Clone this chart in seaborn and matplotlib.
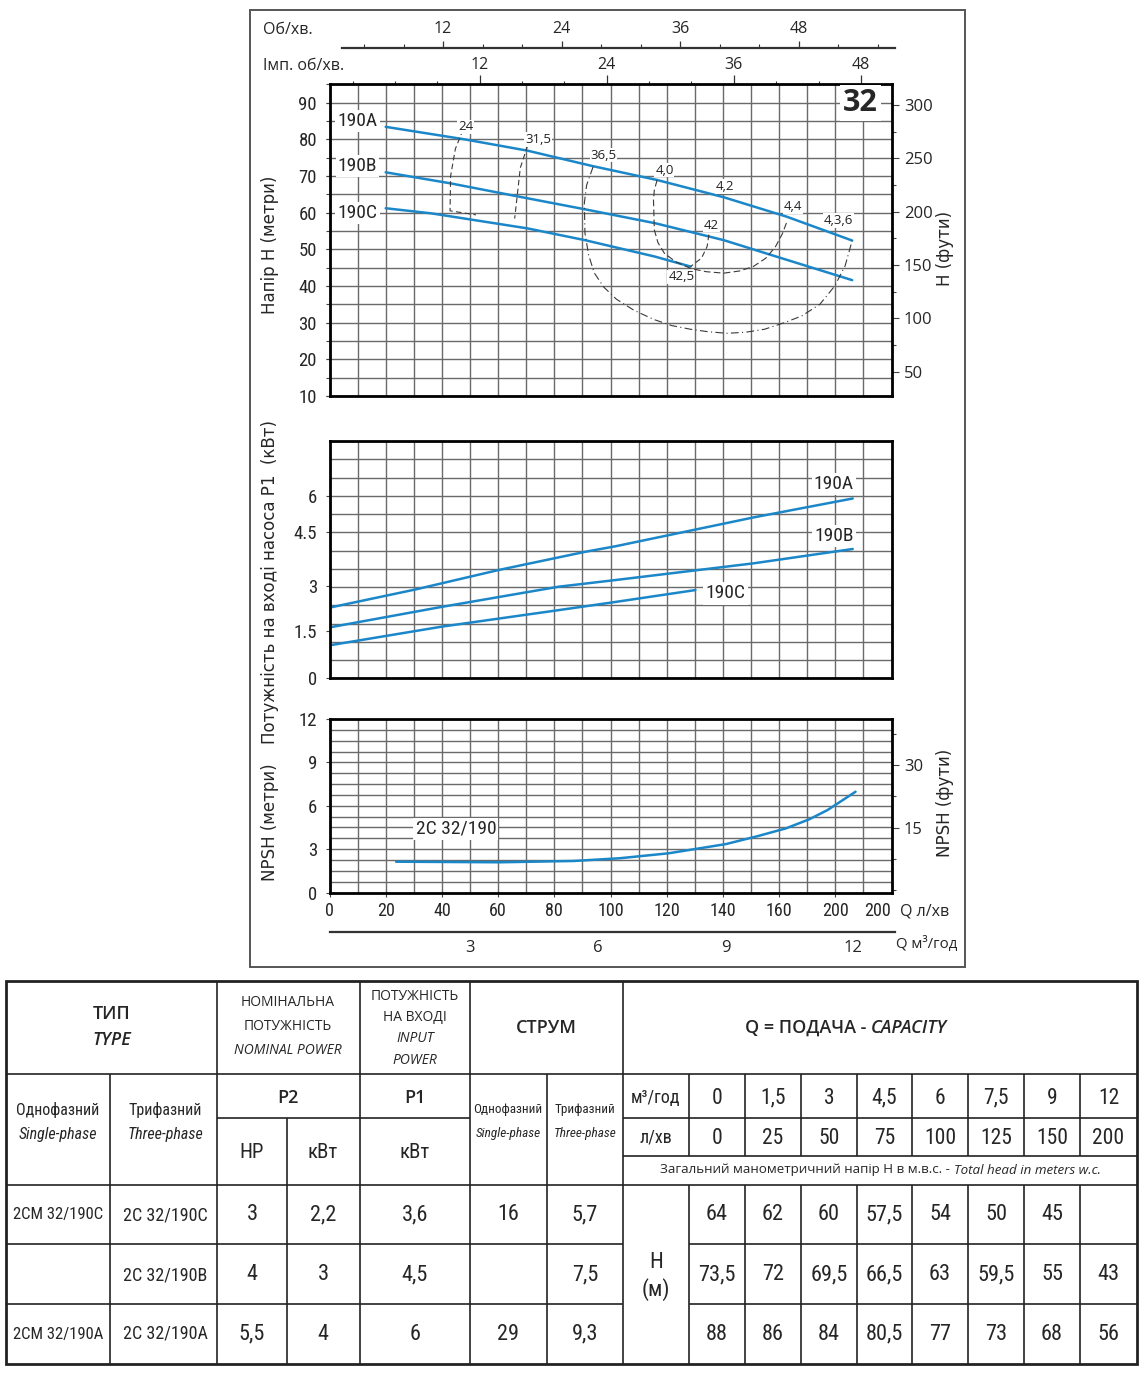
import numpy as np
import pandas as pd
import matplotlib
matplotlib.use("Agg")
import matplotlib.pyplot as plt
import seaborn as sns
from matplotlib import font_manager
from matplotlib.ticker import MultipleLocator, FixedLocator
from matplotlib.patches import Rectangle

# ---------------- data ----------------
# head curves, x in l/min (plot grid), y in metres
HA_Q = [20, 48, 70.5, 93.6, 116.6, 140.3, 162.7, 186]
HA_H = [83.4, 80.0, 76.9, 72.7, 68.9, 64.2, 58.9, 52.4]
HB_Q = [20, 43, 66.5, 91, 116, 140.3, 157, 186]
HB_H = [71.0, 68.0, 64.5, 60.9, 57.1, 52.5, 48.5, 41.6]
HC_Q = [20, 36.3, 70.5, 90.9, 115.9, 128.5]
HC_H = [61.2, 59.8, 55.7, 52.5, 48.0, 45.3]

# iso-efficiency lines (dashed)
E24_Q = [47.5, 44.8, 43.1, 42.9, 52.1]
E24_H = [82.6, 77.4, 70.0, 60.5, 59.4]
E315_Q = [70.5, 67.9, 65.9]
E315_H = [78.3, 72.2, 58.4]
E365_Q = [93.8, 91.5, 90.7, 90.9, 92.2, 94.2, 97.6, 102.1, 108.3, 115.3, 121.8, 128.5,
          135.0, 141.6, 148.2, 154.8, 161.5, 168.0, 174.5, 179.8, 183.5, 186.0]
E365_H = [72.5, 67.5, 62.7, 54.5, 48.5, 43.6, 39.7, 36.4, 33.4, 30.9, 29.2, 28.2,
          27.5, 27.1, 27.4, 28.2, 29.9, 31.8, 35.0, 40.0, 45.5, 52.4]
E40_Q = [116.6, 115.6, 115.3, 115.6, 116.9, 119.2, 123.2, 128.5, 134.0, 140.3, 146.0,
         150.8, 155.3, 158.7, 161.2, 163.0]
E40_H = [68.9, 66.2, 63.5, 55.3, 51.8, 48.9, 46.6, 44.8, 43.9, 43.5, 44.1, 45.3,
         47.6, 50.7, 54.3, 58.0]
E42_Q = [135.0, 134.4, 132.4, 128.5]
E42_H = [54.0, 50.8, 47.6, 45.3]
EFF_LABELS = ["24", "31,5", "36,5", "4,0", "4,2", "4,4", "4,3,6", "42", "42,5"]
EFF_LBL_Q = [48.5, 74.2, 97.5, 119.2, 140.9, 165.0, 181.0, 136.0, 125.2]
EFF_LBL_H = [83.4, 80.0, 75.7, 71.6, 67.1, 61.6, 57.8, 56.6, 42.5]

MODELS = ["190A", "190B", "190C"]
HEAD_LBL_Q = [10, 10, 10]
HEAD_LBL_H = [85.0, 72.7, 59.9]

# input power P1, kW (grid: 0.6 per line)
PA_Q = [0.4, 30.6, 60.2, 91.1, 101.8, 151, 186.2]
PA_P = [2.33, 2.92, 3.56, 4.16, 4.34, 5.29, 5.91]
PB_Q = [0.4, 40.1, 81.5, 101.8, 151, 186.2]
PB_P = [1.68, 2.35, 3.01, 3.23, 3.78, 4.25]
PC_Q = [0.4, 40.1, 81.5, 101.8, 130.2]
PC_P = [1.09, 1.70, 2.24, 2.51, 2.90]
POW_LBL_Q = [179.5, 179.5, 140.9]
POW_LBL_P = [6.38, 4.68, 2.79]
POW_TICK_POS = [0, 1.55, 3.05, 4.8, 6.0]
POW_TICK_LBL = ["0", "1.5", "3", "4.5", "6"]

# NPSH
NPSH_Q = [23.7, 60.6, 86.9, 103.3, 120.6, 141.1, 152.6, 162.5, 170.7, 177.3, 187.2]
NPSH_M = [2.13, 2.09, 2.18, 2.37, 2.71, 3.35, 3.91, 4.44, 5.06, 5.71, 6.97]

Q_TICKS = [0, 20, 40, 60, 80, 100, 120, 140, 160, 180]
Q_TICK_LBL = ["0", "20", "40", "60", "80", "100", "120", "140", "160", "200"]

# table
Q_M3H = ["0", "1,5", "3", "4,5", "6", "7,5", "9", "12"]
Q_LMIN = ["0", "25", "50", "75", "100", "125", "150", "200"]
TYPE_1PH = ["2CM 32/190C", "", "2CM 32/190A"]
TYPE_3PH = ["2C 32/190C", "2C 32/190B", "2C 32/190A"]
P2_HP = ["3", "4", "5,5"]
P2_KW = ["2,2", "3", "4"]
P1_KW = ["3,6", "4,5", "6"]
I_1PH = ["16", "", "29"]
I_3PH = ["5,7", "7,5", "9,3"]
HEAD_C = ["64", "62", "60", "57,5", "54", "50", "45", ""]
HEAD_B = ["73,5", "72", "69,5", "66,5", "63", "59,5", "55", "43"]
HEAD_A = ["88", "86", "84", "80,5", "77", "73", "68", "56"]

# ---------------- style ----------------
sns.set_theme(style="white")
names = {f.name for f in font_manager.fontManager.ttflist}
NARROW = "DejaVu Sans"
for cand in ["Liberation Sans Narrow", "Roboto Condensed", "Open Sans Condensed", "Roboto"]:
    if cand in names:
        NARROW = cand
        break
OPEN = "Open Sans" if "Open Sans" in names else "DejaVu Sans"
plt.rcParams["font.family"] = ["DejaVu Sans"]
BLUE = "#1b87c9"
GRID = "#6a6a6a"

W, H = 1145, 1373
fig = plt.figure(figsize=(W / 100, H / 100), dpi=100)
fig.patch.set_facecolor("white")


def rect(l, t, r, b):
    return [l / W, 1 - b / H, (r - l) / W, (b - t) / H]


def fx(px):
    return px / W


def fy(py):
    return 1 - py / H


def style_grid(ax, ystep, yminor_len=0):
    ax.set_xlim(0, 200)
    ax.xaxis.set_minor_locator(MultipleLocator(10))
    ax.yaxis.set_minor_locator(MultipleLocator(ystep))
    ax.xaxis.remove_overlapping_locs = False
    ax.yaxis.remove_overlapping_locs = False
    ax.grid(False, which="major")
    ax.grid(True, which="minor", color=GRID, lw=1.0)
    ax.set_axisbelow(True)
    for s in ax.spines.values():
        s.set_color("black")
        s.set_linewidth(2.0)
    ax.tick_params(axis="x", which="both", bottom=False, labelbottom=False)
    ax.tick_params(axis="y", which="major", direction="out", left=True, length=3,
                   width=0.8, color="#444", labelsize=13.5, labelfontfamily=NARROW, pad=6)
    ax.tick_params(axis="y", which="minor", direction="out", left=True,
                   length=yminor_len, width=0.8, color="#444")
    ax.set_xlabel("")
    ax.set_ylabel("")


# ---------------- head chart ----------------
ax_h = fig.add_axes(rect(329.5, 84.3, 891.5, 396))
style_grid(ax_h, 5, yminor_len=3)
ax_h.set_ylim(10, 95)
ax_h.yaxis.set_major_locator(MultipleLocator(10))

for q, h in [(HA_Q, HA_H), (HB_Q, HB_H), (HC_Q, HC_H)]:
    sns.lineplot(x=q, y=h, ax=ax_h, color=BLUE, lw=1.8, estimator=None, sort=False)

for q, h, ls in [(E24_Q, E24_H, (0, (5, 3))), (E315_Q, E315_H, (0, (5, 3))),
                 (E365_Q, E365_H, (0, (7, 3, 1, 3))), (E40_Q, E40_H, (0, (6, 3))),
                 (E42_Q, E42_H, (0, (5, 3)))]:
    sns.lineplot(x=q, y=h, ax=ax_h, color="#3a3a3a", lw=0.8, estimator=None,
                 sort=False, linestyle=ls)

for lbl, q, h in zip(EFF_LABELS, EFF_LBL_Q, EFF_LBL_H):
    ax_h.text(q, h, lbl, ha="center", va="center", fontsize=9.5, family=OPEN,
              color="#222", bbox=dict(facecolor="white", edgecolor="none", pad=0.6), zorder=5)

for lbl, q, h in zip(MODELS, HEAD_LBL_Q, HEAD_LBL_H):
    ax_h.text(q, h, lbl, ha="center", va="center", fontsize=14, family=NARROW,
              bbox=dict(facecolor="white", edgecolor="none", pad=1.5), zorder=5)

ax_h.text(189, 89.9, "32", ha="center", va="center", fontsize=22, fontweight="bold",
          family=OPEN, bbox=dict(facecolor="white", edgecolor="none", pad=2), zorder=5)

ft_h = ax_h.secondary_yaxis("right", functions=(lambda m: (m - 2.09) / 0.2909,
                                                 lambda f: 2.09 + 0.2909 * f))
ft_h.yaxis.set_major_locator(MultipleLocator(50))
ft_h.yaxis.set_minor_locator(MultipleLocator(25))
ft_h.tick_params(which="major", direction="out", length=5, width=0.8, color="#444",
                 labelsize=12, labelfontfamily=OPEN, pad=4)
ft_h.tick_params(which="minor", direction="out", length=3, width=0.8, color="#444")
ft_h.spines["right"].set_visible(False)

imp = ax_h.secondary_xaxis("top", functions=(lambda q: (q - 8.2) / 3.769,
                                              lambda v: 8.2 + 3.769 * v))
imp.xaxis.set_major_locator(FixedLocator([12, 24, 36, 48]))
imp.xaxis.set_minor_locator(MultipleLocator(4))
imp.tick_params(which="major", direction="out", length=6.5, width=0.9, color="#333",
                labelsize=11.5, labelfontfamily=OPEN, pad=1.5)
imp.tick_params(which="minor", direction="out", length=2.5, width=0.8, color="#333")
imp.spines["top"].set_visible(False)

# ---------------- power chart ----------------
ax_p = fig.add_axes(rect(329.5, 441, 891.5, 678.3))
style_grid(ax_p, 0.6)
ax_p.set_ylim(0, 7.8)
ax_p.yaxis.set_major_locator(FixedLocator(POW_TICK_POS))
ax_p.set_yticklabels(POW_TICK_LBL)

for q, p in [(PA_Q, PA_P), (PB_Q, PB_P), (PC_Q, PC_P)]:
    sns.lineplot(x=q, y=p, ax=ax_p, color=BLUE, lw=1.8, estimator=None, sort=False)
for lbl, q, p in zip(MODELS, POW_LBL_Q, POW_LBL_P):
    ax_p.text(q, p, lbl, ha="center", va="center", fontsize=14, family=NARROW,
              bbox=dict(facecolor="white", edgecolor="none", pad=1.5), zorder=5)

# ---------------- NPSH chart ----------------
ax_n = fig.add_axes(rect(329.5, 719, 891.5, 892.5))
style_grid(ax_n, 0.75)
ax_n.set_ylim(0, 12)
ax_n.yaxis.set_major_locator(MultipleLocator(3))
sns.lineplot(x=NPSH_Q, y=NPSH_M, ax=ax_n, color=BLUE, lw=1.8, estimator=None, sort=False)
ax_n.text(45, 4.4, "2C 32/190", ha="center", va="center", fontsize=14, family=NARROW,
          bbox=dict(facecolor="white", edgecolor="none", pad=1.5), zorder=5)

ax_n.set_xticks(Q_TICKS)
ax_n.set_xticklabels(Q_TICK_LBL)
ax_n.tick_params(axis="x", which="major", bottom=True, labelbottom=True, length=3, width=0.8,
                 color="#444", labelsize=13, labelfontfamily=NARROW, pad=4)
ax_n.text(195, -0.055, "200", transform=ax_n.get_xaxis_transform(), ha="center",
          va="top", fontsize=13, family=NARROW)

ft_n = ax_n.secondary_yaxis("right", functions=(lambda m: (m - 0.14) / 0.289,
                                                 lambda f: 0.14 + 0.289 * f))
ft_n.yaxis.set_major_locator(FixedLocator([15, 30]))
ft_n.yaxis.set_minor_locator(MultipleLocator(7.5))
ft_n.tick_params(which="major", direction="out", length=5, width=0.8, color="#444",
                 labelsize=12, labelfontfamily=OPEN, pad=4)
ft_n.tick_params(which="minor", direction="out", length=3, width=0.8, color="#444")
ft_n.spines["right"].set_visible(False)

# ---------------- extra flow scales ----------------
ax_rpm = fig.add_axes(rect(342, 47.5, 895, 48))
ax_rpm.set_xlim(1.77, 57.77)
ax_rpm.set_yticks([])
ax_rpm.patch.set_alpha(0)
for s in ["top", "left", "right"]:
    ax_rpm.spines[s].set_visible(False)
ax_rpm.spines["bottom"].set_linewidth(1.6)
ax_rpm.spines["bottom"].set_color("#333")
ax_rpm.xaxis.set_ticks_position("top")
ax_rpm.xaxis.set_major_locator(FixedLocator([12, 24, 36, 48]))
ax_rpm.xaxis.set_minor_locator(MultipleLocator(4))
ax_rpm.tick_params(which="major", direction="out", length=5, width=0.9, color="#333",
                   labelsize=11.5, labelfontfamily=OPEN, pad=2.5, labeltop=True,
                   labelbottom=False)
ax_rpm.tick_params(which="minor", direction="out", length=3, width=0.8, color="#333")

ax_m3 = fig.add_axes(rect(330, 931.5, 895, 932))
ax_m3.set_xlim(-0.28, 12.98)
ax_m3.set_yticks([])
ax_m3.patch.set_alpha(0)
for s in ["top", "left", "right"]:
    ax_m3.spines[s].set_visible(False)
ax_m3.spines["bottom"].set_linewidth(1.6)
ax_m3.spines["bottom"].set_color("#333")
ax_m3.xaxis.set_major_locator(FixedLocator([3, 6, 9, 12]))
ax_m3.xaxis.set_minor_locator(FixedLocator([1.5, 4.5, 7.5, 10.5]))
ax_m3.tick_params(which="both", direction="out", length=4, width=0.8, color="#333",
                  labelsize=12, labelfontfamily=OPEN, pad=1.5)

# ---------------- axis titles ----------------
fig.text(fx(263), fy(30), "Об/хв.", ha="left", va="center", fontsize=11.5, family=OPEN)
fig.text(fx(263), fy(66), "Імп. об/хв.", ha="left", va="center", fontsize=11.5, family=OPEN)
fig.text(fx(270), fy(245), "Напір H (метри)", rotation=90, ha="center", va="center", fontsize=12)
fig.text(fx(945), fy(248), "H (фути)", rotation=90, ha="center", va="center", fontsize=12)
fig.text(fx(270), fy(582), "Потужність на вході насоса P1  (кВт)", rotation=90,
         ha="center", va="center", fontsize=12)
fig.text(fx(270), fy(822), "NPSH (метри)", rotation=90, ha="center", va="center", fontsize=12)
fig.text(fx(945), fy(803), "NPSH (фути)", rotation=90, ha="center", va="center", fontsize=12)
fig.text(fx(900), fy(911), "Q л/хв", ha="left", va="center", fontsize=11.5, family=OPEN)
fig.text(fx(896), fy(944), "Q м³/год", ha="left", va="center", fontsize=10.8, family=OPEN)

fig.add_artist(Rectangle((fx(250), fy(967)), (965 - 250) / W, (967 - 10) / H,
                         transform=fig.transFigure, fill=False, ec="#555", lw=1.4))

# ---------------- table ----------------
ax_t = fig.add_axes([0, 0, 1, 1], zorder=-1)
ax_t.set_xlim(0, W)
ax_t.set_ylim(H, 0)
ax_t.axis("off")

TL, TR, TT, TB = 6, 1137, 981, 1364
LC = 2.0
IC = 1.2
lc = "#222"
ax_t.add_patch(Rectangle((TL, TT), TR - TL, TB - TT, fill=False, ec=lc, lw=LC))
qcols = [623, 689, 745, 801, 857, 912, 968, 1024, 1080, 1137]
ax_t.hlines(1074, TL, TR, color=lc, lw=IC)
ax_t.hlines(1118, 217, 470, color=lc, lw=IC)
ax_t.hlines([1118, 1156], 623, TR, color=lc, lw=IC)
ax_t.hlines(1185, TL, TR, color=lc, lw=IC)
ax_t.hlines([1244, 1304], TL, 623, color=lc, lw=IC)
ax_t.hlines([1244, 1304], 689, TR, color=lc, lw=IC)
ax_t.vlines([217, 360, 470, 623], TT, TB, color=lc, lw=IC)
ax_t.vlines([110, 547], 1074, TB, color=lc, lw=IC)
ax_t.vlines(287, 1118, TB, color=lc, lw=IC)
ax_t.vlines(qcols[1:-1], 1074, 1156, color=lc, lw=IC)
ax_t.vlines(qcols[1:-1], 1185, TB, color=lc, lw=IC)


def cell(x, y, s, size=16, fam=NARROW, **kw):
    ax_t.text(x, y, s, ha="center", va="center", fontsize=size, family=fam, **kw)


cell(112, 1014, "ТИП", 13, OPEN, fontweight="semibold")
cell(112, 1040, "TYPE", 13, OPEN, fontweight="semibold", style="italic")
cell(288, 1003, "НОМІНАЛЬНА", 10, OPEN)
cell(288, 1026, "ПОТУЖНІСТЬ", 10, OPEN)
cell(288, 1050, "NOMINAL POWER", 10, OPEN, style="italic")
cell(415, 997, "ПОТУЖНІСТЬ", 10, OPEN)
cell(415, 1018, "НА ВХОДІ", 10, OPEN)
cell(415, 1039, "INPUT", 10, OPEN, style="italic")
cell(415, 1060, "POWER", 10, OPEN, style="italic")
cell(546, 1028, "СТРУМ", 13, OPEN, fontweight="semibold")
ax_t.text(866, 1028, "Q = ПОДАЧА -", ha="right", va="center", fontsize=13, family=OPEN,
          fontweight="semibold")
ax_t.text(871, 1028, "CAPACITY", ha="left", va="center", fontsize=13, family=OPEN,
          fontweight="semibold", style="italic")

cell(58, 1110, "Однофазний", 11.5)
cell(58, 1134, "Single-phase", 11.5, style="italic")
cell(165, 1110, "Трифазний", 11.5)
cell(165, 1134, "Three-phase", 11.5, style="italic")
cell(508, 1110, "Однофазний", 9.5)
cell(508, 1134, "Single-phase", 9.5, style="italic")
cell(585, 1110, "Трифазний", 9.5)
cell(585, 1134, "Three-phase", 9.5, style="italic")
cell(288, 1098, "P2", 13, OPEN, fontweight="semibold")
cell(415, 1098, "P1", 13, OPEN, fontweight="semibold")
cell(252, 1152, "HP", 15)
cell(323, 1152, "кВт", 15)
cell(415, 1152, "кВт", 15)
cell(656, 1098, "м³/год", 13)
cell(656, 1138, "л/хв", 13)
qcent = [(a + b) / 2 for a, b in zip(qcols[1:-1], qcols[2:])]
for xc, a, b in zip(qcent, Q_M3H, Q_LMIN):
    cell(xc, 1098, a, 15.5)
    cell(xc, 1138, b, 15.5)
ax_t.text(950, 1170, "Загальний манометричний напір H в м.в.с. -", ha="right",
          va="center", fontsize=9.6, family=OPEN)
ax_t.text(954, 1170, "Total head in meters w.c.", ha="left", va="center",
          fontsize=9.6, family=OPEN, style="italic")
cell(656, 1263, "H", 16)
cell(656, 1290, "(м)", 16)

row_y = [1215, 1275, 1334]
for i, y in enumerate(row_y):
    cell(58, y, TYPE_1PH[i], 12)
    cell(165, y, TYPE_3PH[i], 13)
    cell(252, y, P2_HP[i])
    cell(323, y, P2_KW[i])
    cell(415, y, P1_KW[i])
    cell(508, y, I_1PH[i])
    cell(585, y, I_3PH[i])
for y, heads in zip(row_y, [HEAD_C, HEAD_B, HEAD_A]):
    for xc, v in zip(qcent, heads):
        cell(xc, y, v)

fig.savefig("out.png", dpi=100, facecolor="white")
